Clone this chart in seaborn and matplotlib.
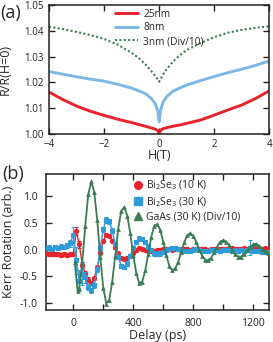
import matplotlib
matplotlib.use('Agg')
import matplotlib.pyplot as plt
import seaborn as sns
from matplotlib.lines import Line2D
from matplotlib.ticker import MultipleLocator

# ---- (a) magnetoresistance, R/R(H=0) vs field ----
field = [-4, -3.5, -3, -2.5, -2, -1.5, -1, -0.75, -0.5, -0.3, -0.15, -0.05, 0,
         0.05, 0.15, 0.3, 0.5, 0.75, 1, 1.5, 2, 2.5, 3, 3.5, 4]
mr_25nm = [1.0163, 1.0134, 1.0109, 1.0089, 1.0073, 1.0058, 1.0045, 1.0038, 1.0031, 1.0025, 1.0020, 1.0015, 1.0002,
           1.0016, 1.0022, 1.0026, 1.0031, 1.0036, 1.0042, 1.0055, 1.0074, 1.0094, 1.0113, 1.0138, 1.0168]
mr_8nm = [1.0242, 1.0232, 1.0222, 1.0213, 1.0205, 1.0193, 1.0178, 1.0168, 1.0157, 1.0140, 1.0120, 1.0090, 1.0049,
          1.0093, 1.0126, 1.0148, 1.0166, 1.0179, 1.0190, 1.0207, 1.0223, 1.0238, 1.0251, 1.0266, 1.0283]
mr_3nm = [1.0415, 1.0406, 1.0395, 1.0383, 1.0368, 1.0346, 1.0314, 1.0295, 1.0270, 1.0246, 1.0226, 1.0212, 1.0203,
          1.0213, 1.0232, 1.0255, 1.0280, 1.0305, 1.0325, 1.0352, 1.0375, 1.0392, 1.0403, 1.0411, 1.0416]

# ---- (b) Kerr rotation vs delay ----
delay = [-180, -160, -140, -120, -100, -80, -60, -40, -20, 0, 20, 40, 60, 80, 100, 120, 140, 160, 180, 200,
         220, 240, 260, 280, 300, 320, 340, 360, 380, 400, 420, 440, 460, 480, 500, 520, 540, 560, 580, 600,
         620, 640, 660, 680, 700, 720, 740, 760, 780, 800, 820, 840, 860, 880, 900, 920, 940, 960, 980, 1000,
         1020, 1040, 1060, 1080, 1100, 1120, 1140, 1160, 1180, 1200, 1220, 1240, 1260, 1280, 1300]
kerr_10K = [-0.07, -0.08, -0.09, -0.08, -0.09, -0.10, -0.08, -0.10, -0.09, -0.08, 0.35, 0.10, -0.28, -0.44, -0.56, -0.62, -0.54, -0.33, -0.06, 0.17,
            0.28, 0.26, 0.17, 0.05, -0.07, -0.15, -0.17, -0.15, -0.11, -0.06, -0.01, 0.03, 0.02, 0.00, -0.02, -0.03, -0.02, -0.01, 0.00, 0.01,
            0.02, 0.01, 0.00, 0.01, 0.02, 0.01, 0.02, 0.01, 0.00, 0.01, 0.02, 0.01, 0.02, 0.01, 0.00, 0.01, 0.02, 0.02, 0.01, 0.02,
            0.01, 0.02, 0.03, 0.02, 0.01, 0.02, 0.03, 0.02, 0.02, 0.03, 0.02, 0.03, 0.02, 0.03, 0.02]
err_10K = [0.03, 0.03, 0.03, 0.03, 0.03, 0.03, 0.03, 0.03, 0.03, 0.04, 0.08, 0.06, 0.05, 0.04, 0.04, 0.04, 0.03, 0.03, 0.03, 0.03,
           0.03, 0.03, 0.03, 0.03, 0.03, 0.03, 0.03, 0.03, 0.03, 0.03, 0.03, 0.03, 0.03, 0.03, 0.03, 0.03, 0.03, 0.03, 0.03, 0.03,
           0.03, 0.03, 0.03, 0.03, 0.03, 0.03, 0.03, 0.03, 0.03, 0.03, 0.03, 0.03, 0.03, 0.03, 0.03, 0.03, 0.03, 0.03, 0.03, 0.03,
           0.03, 0.03, 0.03, 0.03, 0.03, 0.03, 0.03, 0.03, 0.03, 0.03, 0.03, 0.03, 0.03, 0.03, 0.03]
kerr_30K = [0.03, 0.04, 0.02, 0.05, 0.03, 0.06, 0.05, 0.08, 0.12, 0.28, -0.20, -0.58, -0.45, -0.52, -0.70, -0.76, -0.67, -0.37, 0.03, 0.38,
            0.56, 0.53, 0.36, 0.11, -0.14, -0.30, -0.32, -0.26, -0.12, 0.03, 0.15, 0.21, 0.20, 0.14, 0.06, -0.01, -0.07, -0.08, -0.07, -0.04,
            -0.01, 0.02, 0.03, 0.03, 0.02, 0.00, -0.02, -0.03, -0.02, 0.00, 0.01, 0.00, -0.02, -0.03, -0.02, -0.01, 0.00, -0.01, -0.02, -0.01,
            0.00, -0.01, -0.02, -0.01, -0.02, -0.01, -0.02, -0.01, 0.04, -0.02, -0.03, -0.02, -0.04, -0.05, -0.05]
err_30K = [0.04, 0.04, 0.04, 0.04, 0.04, 0.04, 0.04, 0.05, 0.06, 0.15, 0.25, 0.20, 0.22, 0.10, 0.06, 0.05, 0.05, 0.04, 0.04, 0.04,
           0.05, 0.04, 0.04, 0.04, 0.04, 0.04, 0.04, 0.04, 0.04, 0.04, 0.04, 0.04, 0.04, 0.04, 0.04, 0.04, 0.04, 0.04, 0.04, 0.04,
           0.04, 0.04, 0.04, 0.04, 0.04, 0.04, 0.04, 0.04, 0.04, 0.04, 0.04, 0.04, 0.04, 0.04, 0.04, 0.04, 0.04, 0.04, 0.04, 0.04,
           0.04, 0.04, 0.04, 0.04, 0.04, 0.04, 0.04, 0.04, 0.14, 0.04, 0.04, 0.04, 0.04, 0.04, 0.04]

delay_gaas = [10, 29, 40, 60, 80, 100, 120, 140, 160, 180, 200, 220, 240, 260, 280, 300, 320, 340, 360, 380,
              400, 420, 440, 460, 480, 500, 520, 540, 560, 580, 600, 620, 640, 660, 680, 700, 720, 740, 760, 780,
              800, 820, 840, 860, 880, 900, 920, 940, 960, 980, 1000, 1020, 1040, 1060, 1080, 1100, 1120, 1140, 1160, 1180,
              1200, 1220, 1240, 1260, 1280, 1300]
kerr_gaas = [-0.24, -0.78, -0.71, -0.24, 0.44, 1.04, 1.28, 1.08, 0.55, -0.13, -0.71, -1.01, -0.94, -0.60, -0.11, 0.39, 0.73, 0.80, 0.64, 0.31,
             -0.10, -0.44, -0.63, -0.60, -0.39, -0.08, 0.24, 0.45, 0.48, 0.37, 0.15, -0.10, -0.30, -0.39, -0.35, -0.23, -0.05, 0.14, 0.27, 0.31,
             0.26, 0.14, 0.00, -0.12, -0.19, -0.20, -0.15, -0.05, 0.06, 0.15, 0.18, 0.15, 0.08, -0.01, -0.09, -0.13, -0.13, -0.08, -0.01, 0.06,
             0.10, 0.11, 0.07, 0.02, -0.03, -0.06]

red = '#e8232b'
blue_a = '#7db7e6'
blue_b = '#2f9bdb'
green = '#3b7d52'

sns.set_style('ticks')
plt.rcParams['font.family'] = ['Open Sans', 'DejaVu Sans']
plt.rcParams['mathtext.fontset'] = 'custom'
plt.rcParams['mathtext.rm'] = 'Open Sans'

fig = plt.figure(figsize=(2.73, 3.42), dpi=100)
ax1 = fig.add_axes([49 / 273, 1 - 134.3 / 342, 220.3 / 273, 129.6 / 342])
ax2 = fig.add_axes([45.5 / 273, 1 - 310.3 / 342, 223.8 / 273, 136.6 / 342])

# panel (a)
sns.lineplot(x=field, y=mr_25nm, ax=ax1, color=red, lw=2.1, label='25nm')
sns.lineplot(x=field, y=mr_8nm, ax=ax1, color=blue_a, lw=2.1, label='8nm')
sns.lineplot(x=field, y=mr_3nm, ax=ax1, color=green, lw=1.5, linestyle=(0, (1, 1.1)), label='3nm (Div/10)')
ax1.set_xlim(-4, 4)
ax1.set_ylim(1.0, 1.05)
ax1.xaxis.set_major_locator(MultipleLocator(2))
ax1.yaxis.set_major_locator(MultipleLocator(0.01))
ax1.yaxis.set_major_formatter(plt.FormatStrFormatter('%.2f'))
ax1.tick_params(direction='in', length=4, width=1, top=True, right=True, labelsize=7, colors='#222222')
ax1.tick_params(axis='y', pad=4)
ax1.tick_params(axis='x', pad=3.5)
ax1.set_xlabel('H(T)', fontsize=9)
ax1.set_ylabel('R/R(H=0)', fontsize=9)
ax1.xaxis.set_label_coords(0.5, -0.115)
ax1.yaxis.set_label_coords(-0.17, 0.5)
ax1.legend(loc='upper left', bbox_to_anchor=(0.295, 0.975), frameon=False, fontsize=7.3,
           handlelength=2.3, handletextpad=0.5, labelspacing=0.25, borderpad=0.1, borderaxespad=0)

# panel (b)
ax2.errorbar(delay, kerr_10K, yerr=err_10K, fmt='none', ecolor=red, elinewidth=0.8, capsize=1.2, capthick=0.8, zorder=2)
sns.lineplot(x=delay, y=kerr_10K, ax=ax2, color=red, lw=1.0, marker='o', markersize=3.8,
             markeredgewidth=0, zorder=3)
ax2.errorbar(delay, kerr_30K, yerr=err_30K, fmt='none', ecolor=blue_b, elinewidth=0.8, capsize=1.2, capthick=0.8, zorder=4)
sns.lineplot(x=delay, y=kerr_30K, ax=ax2, color=blue_b, lw=1.0, marker='s', markersize=3.6,
             markeredgewidth=0, zorder=5)
sns.lineplot(x=delay_gaas, y=kerr_gaas, ax=ax2, color=green, lw=1.3, marker='^', markersize=3.4,
             markeredgewidth=0, zorder=6)

ax2.set_xlim(-185, 1307)
ax2.set_ylim(-1.137, 1.426)
ax2.xaxis.set_major_locator(MultipleLocator(400))
ax2.xaxis.set_minor_locator(MultipleLocator(200))
ax2.yaxis.set_major_locator(MultipleLocator(0.5))
ax2.yaxis.set_major_formatter(plt.FormatStrFormatter('%.1f'))
ax2.tick_params(which='both', direction='in', length=4, width=1, top=True, right=True, colors='#222222')
ax2.tick_params(labelsize=7.5, pad=5.5)
ax2.set_xlabel('Delay (ps)', fontsize=9)
ax2.set_ylabel('Kerr Rotation (arb.)', fontsize=9)
ax2.xaxis.set_label_coords(0.5, -0.135)
ax2.yaxis.set_label_coords(-0.135, 0.5)

handles = [Line2D([], [], color=red, marker='o', linestyle='none', markersize=5.5),
           Line2D([], [], color=blue_b, marker='s', linestyle='none', markersize=5.5),
           Line2D([], [], color=green, marker='^', linestyle='none', markersize=6)]
labels = ['Bi$_2$Se$_3$ (10 K)', 'Bi$_2$Se$_3$ (30 K)', 'GaAs (30 K) (Div/10)']
ax2.legend(handles, labels, loc='upper left', bbox_to_anchor=(0.39, 0.97), frameon=False, fontsize=7.5,
           handlelength=0.8, handletextpad=0.4, labelspacing=0.25, borderpad=0.1, borderaxespad=0)

for ax in (ax1, ax2):
    for sp in ax.spines.values():
        sp.set_linewidth(1.1)
        sp.set_color('#222222')

fig.text(11 / 273, 1 - 13 / 342, '(a)', ha='center', va='center', fontsize=13)
fig.text(13 / 273, 1 - 174 / 342, '(b)', ha='center', va='center', fontsize=13)

fig.savefig('out.png', dpi=100)
